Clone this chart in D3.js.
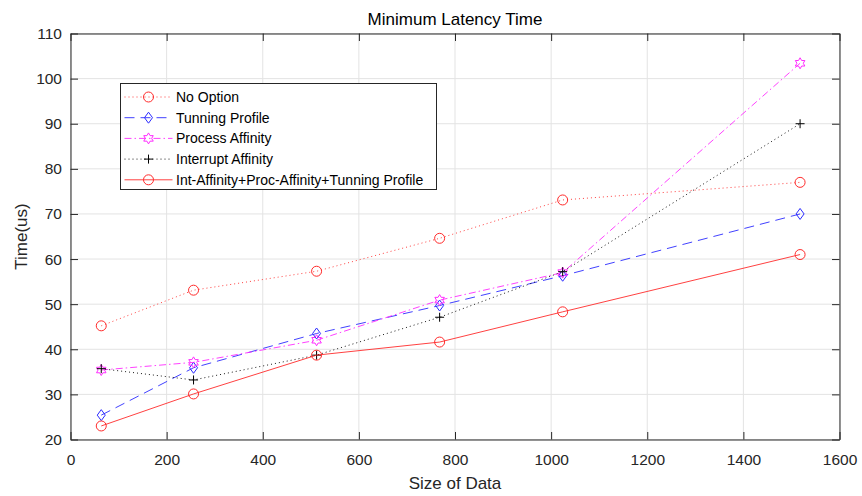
<!DOCTYPE html>
<html>
<head>
<meta charset="utf-8">
<script src="https://cdn.jsdelivr.net/npm/d3@7"></script>
<style>
  body { margin: 0; background: #fff; }
  text { font-family: "Liberation Sans", Arial, sans-serif; }
</style>
</head>
<body>
<div id="chart"></div>
<script>
// data
var sizes = [64, 256, 512, 768, 1024, 1518];
var noOption = [45.2, 53.1, 57.3, 64.6, 73.1, 77.0];
var tuningProfile = [25.4, 35.9, 43.5, 49.7, 56.3, 70.0];
var processAffinity = [35.4, 37.1, 42.0, 50.9, 57.0, 103.4];
var interruptAffinity = [35.7, 33.2, 38.7, 47.1, 57.2, 90.0];
var combined = [23.0, 30.1, 38.7, 41.6, 48.3, 61.0];

var seriesNames = ["No Option", "Tunning Profile", "Process Affinity", "Interrupt Affinity",
  "Int-Affinity+Proc-Affinity+Tunning Profile"];

var xTicks = [0, 200, 400, 600, 800, 1000, 1200, 1400, 1600];
var yTicks = [20, 30, 40, 50, 60, 70, 80, 90, 100, 110];

// line styles, one per series
var styles = [
  { values: noOption, color: "#ff2b2b", dash: "1,3", marker: "circle" },
  { values: tuningProfile, color: "#2b2bff", dash: "10,6", marker: "diamond" },
  { values: processAffinity, color: "#ff2bff", dash: "7,3,1.5,3", marker: "hexagram" },
  { values: interruptAffinity, color: "#000000", dash: "1,3", marker: "plus" },
  { values: combined, color: "#ff2b2b", dash: null, marker: "circle" }
];

var svgWidth = 862;
var svgHeight = 496;

var svg = d3.select("#chart")
  .append("svg")
  .attr("width", svgWidth)
  .attr("height", svgHeight);

svg.append("rect").attr("width", svgWidth).attr("height", svgHeight).attr("fill", "#fff");

// plot box in pixels
var pLeft = 70.5, pRight = 839.5, pTop = 33.5, pBottom = 439.5;

var x = d3.scaleLinear().domain([0, 1600]).range([pLeft, pRight]);
var y = d3.scaleLinear().domain([20, 110]).range([pBottom, pTop]);

var axisColor = "#262626";

// grid lines
var grid = svg.append("g");
grid.selectAll(".gx").data(xTicks).enter().append("line")
  .attr("x1", d => x(d)).attr("x2", d => x(d))
  .attr("y1", pTop).attr("y2", pBottom)
  .attr("stroke", "#e3e3e3").attr("stroke-width", 1);
grid.selectAll(".gy").data(yTicks).enter().append("line")
  .attr("x1", pLeft).attr("x2", pRight)
  .attr("y1", d => y(d)).attr("y2", d => y(d))
  .attr("stroke", "#e3e3e3").attr("stroke-width", 1);

// marker shapes
function markerPath(type) {
  if (type === "diamond") {
    return "M0,-5.5L4,0L0,5.5L-4,0Z";
  }
  if (type === "plus") {
    return "M-4.5,0H4.5M0,-4.5V4.5";
  }
  if (type === "hexagram") {
    var pts = [];
    for (var i = 0; i < 12; i++) {
      var r = i % 2 === 0 ? 5.5 : 5.5 / Math.sqrt(3);
      var a = -Math.PI / 2 + i * Math.PI / 6;
      pts.push([r * Math.cos(a), r * Math.sin(a)]);
    }
    return "M" + pts.map(p => p[0].toFixed(2) + "," + p[1].toFixed(2)).join("L") + "Z";
  }
  return null;
}

function drawMarker(g, type, color, cx, cy) {
  if (type === "circle") {
    g.append("circle")
      .attr("cx", cx).attr("cy", cy).attr("r", 5)
      .attr("fill", "none").attr("stroke", color).attr("stroke-width", 1);
  } else {
    g.append("path")
      .attr("transform", `translate(${cx},${cy})`)
      .attr("d", markerPath(type))
      .attr("fill", "none").attr("stroke", color).attr("stroke-width", 1);
  }
}

var line = d3.line()
  .x(d => x(d[0]))
  .y(d => y(d[1]));

var plotGroup = svg.append("g");

styles.forEach(function(s) {
  var pts = sizes.map((v, i) => [v, s.values[i]]);
  var g = plotGroup.append("g");
  g.append("path")
    .datum(pts)
    .attr("d", line)
    .attr("fill", "none")
    .attr("stroke", s.color)
    .attr("stroke-width", 0.9)
    .attr("stroke-dasharray", s.dash);
  pts.forEach(p => drawMarker(g, s.marker, s.color, x(p[0]), y(p[1])));
});

// axes on all four sides, ticks pointing inward
var fmt = d3.format("d");
var bottomAxis = d3.axisBottom(x).tickValues(xTicks).tickFormat(fmt).tickSizeInner(-7.5).tickSizeOuter(0).tickPadding(14.5);
var leftAxis = d3.axisLeft(y).tickValues(yTicks).tickFormat(fmt).tickSizeInner(-7.5).tickSizeOuter(0).tickPadding(8.5);
var topAxis = d3.axisTop(x).tickValues(xTicks).tickSizeInner(-7.5).tickSizeOuter(0).tickFormat("");
var rightAxis = d3.axisRight(y).tickValues(yTicks).tickSizeInner(-7.5).tickSizeOuter(0).tickFormat("");

function styleAxis(g) {
  g.selectAll("path, line").attr("stroke", axisColor);
  g.selectAll("text")
    .attr("fill", axisColor)
    .style("font-family", "Liberation Sans, Arial, sans-serif")
    .style("font-size", "15.5px");
}

svg.append("g").attr("transform", `translate(0,${pBottom})`).call(bottomAxis).call(styleAxis);
svg.append("g").attr("transform", `translate(${pLeft},0)`).call(leftAxis).call(styleAxis);
svg.append("g").attr("transform", `translate(0,${pTop})`).call(topAxis).call(styleAxis);
svg.append("g").attr("transform", `translate(${pRight},0)`).call(rightAxis).call(styleAxis);

// title and axis labels
svg.append("text")
  .attr("x", (pLeft + pRight) / 2).attr("y", 24.5)
  .attr("text-anchor", "middle")
  .attr("fill", "#000")
  .style("font-size", "17px")
  .text("Minimum Latency Time");

svg.append("text")
  .attr("x", (pLeft + pRight) / 2).attr("y", 488.5)
  .attr("text-anchor", "middle")
  .attr("fill", axisColor)
  .style("font-size", "17px")
  .text("Size of Data");

svg.append("text")
  .attr("transform", `translate(27,${(pTop + pBottom) / 2}) rotate(-90)`)
  .attr("text-anchor", "middle")
  .attr("fill", axisColor)
  .style("font-size", "17px")
  .text("Time(us)");

// legend
var legend = svg.append("g").attr("transform", "translate(120.5,83.5)");
legend.append("rect")
  .attr("width", 316).attr("height", 106)
  .attr("fill", "#fff").attr("stroke", axisColor).attr("stroke-width", 1);

styles.forEach(function(s, i) {
  var ly = 13.5 + i * 20.7;
  var row = legend.append("g");
  row.append("line")
    .attr("x1", 4).attr("x2", 52).attr("y1", ly).attr("y2", ly)
    .attr("stroke", s.color).attr("stroke-width", 0.9)
    .attr("stroke-dasharray", s.dash);
  drawMarker(row, s.marker, s.color, 28, ly);
  row.append("text")
    .attr("x", 55.5).attr("y", ly + 5)
    .attr("fill", "#000")
    .style("font-size", "14px")
    .text(seriesNames[i]);
});
</script>
</body>
</html>
